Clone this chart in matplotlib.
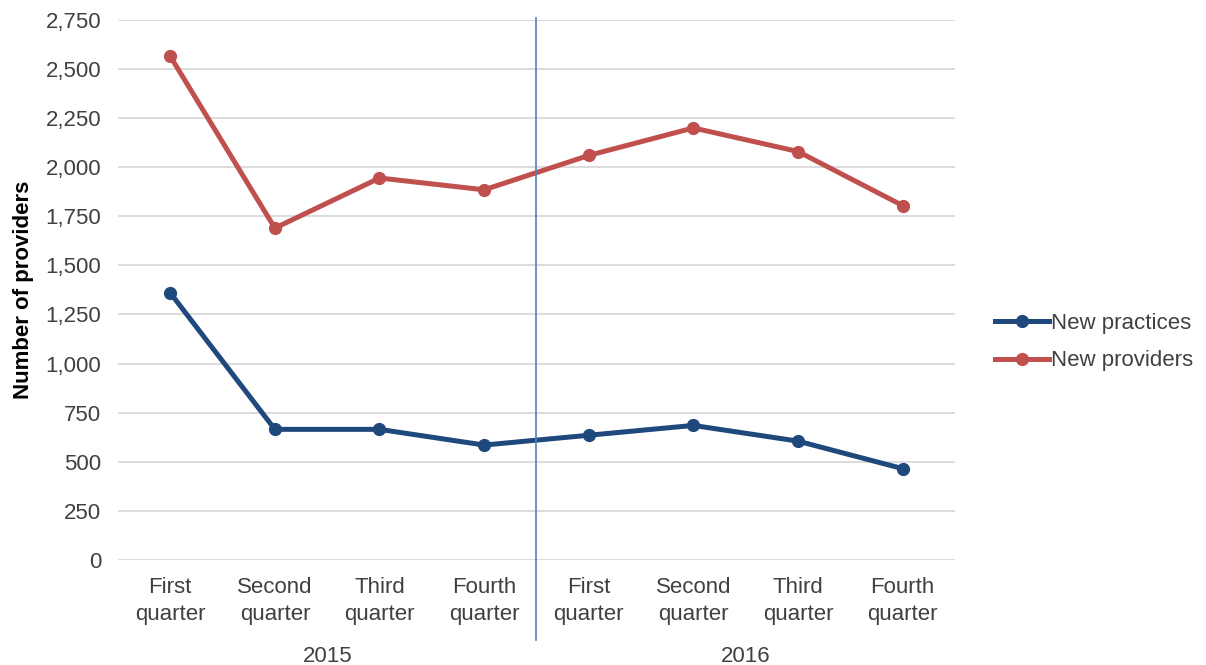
import matplotlib.pyplot as plt
import matplotlib.transforms as mtransforms

plt.rcParams['font.family'] = ['Liberation Sans', 'DejaVu Sans']

quarters = ["First\nquarter", "Second\nquarter", "Third\nquarter", "Fourth\nquarter"] * 2
years = ["2015", "2016"]
new_practices = [1360, 665, 665, 585, 635, 685, 605, 465]
new_providers = [2565, 1690, 1945, 1885, 2060, 2200, 2080, 1805]

blue = "#1F497D"
red = "#C0504D"
text_col = "#404040"
fs = 16

fig = plt.figure(figsize=(12.06, 6.65), dpi=100)
ax = fig.add_axes([0.0978, 0.158, 0.694, 0.812])

x = range(len(quarters))
ax.plot(x, new_practices, color=blue, lw=3.6, marker="o", ms=8.5, label="New practices")
ax.plot(x, new_providers, color=red, lw=3.6, marker="o", ms=8.5, label="New providers")

ax.set_xlim(-0.5, 7.5)
ax.set_ylim(0, 2750)
ax.set_yticks(range(0, 2751, 250))
ax.set_yticklabels([f"{v:,}" for v in range(0, 2751, 250)])
ax.set_xticks(list(x))
ax.set_xticklabels(quarters, linespacing=1.4)
ax.grid(axis="y", color="#D9D9D9", lw=1.3)
ax.set_axisbelow(True)
for s in ax.spines.values():
    s.set_visible(False)
ax.tick_params(length=0, labelsize=fs, labelcolor=text_col)
ax.tick_params(axis="y", pad=12)
ax.tick_params(axis="x", pad=12)

ax.set_ylabel("Number of providers", fontsize=16, fontweight="bold", labelpad=8)

# divider between the two years
ax.axvline(3.5, ymin=-0.148, ymax=1.004, color="#4F81BD", lw=1.2, clip_on=False)

# year labels under the quarter labels
trans = mtransforms.blended_transform_factory(ax.transData, fig.transFigure)
for i, yr in enumerate(years):
    ax.text(1.5 + 4 * i, 1 - 656 / 665, yr, transform=trans, ha="center", va="center",
            fontsize=fs, color=text_col)

ax.legend(loc="center left", bbox_to_anchor=(0.818, 1 - 342 / 665), bbox_transform=fig.transFigure,
          frameon=False, fontsize=fs, handlelength=2.4, handletextpad=0.1,
          labelspacing=0.75, labelcolor=text_col, borderaxespad=0)

fig.savefig("out.png", dpi=100)
